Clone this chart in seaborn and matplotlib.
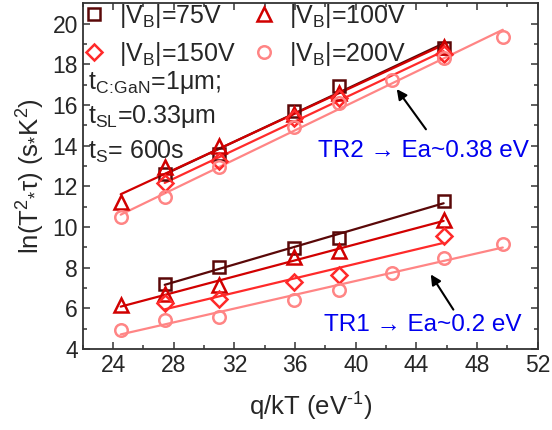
import numpy as np
import pandas as pd
import matplotlib
matplotlib.use("Agg")
import matplotlib.pyplot as plt
import seaborn as sns

# ---- data ----
labels = ["|V$_{B}$|=75V", "|V$_{B}$|=100V", "|V$_{B}$|=150V", "|V$_{B}$|=200V"]
colors = ["#5a0808", "#d10000", "#ff2a2a", "#ff8585"]
markers = ["s", "^", "D", "o"]

# TR2 (upper group)
x_tr2_75 = [27.4, 31.0, 35.9, 38.9, 45.8]
y_tr2_75 = [12.6, 13.6, 15.72, 16.94, 18.82]
x_tr2_100 = [24.5, 27.4, 31.0, 35.9, 38.9, 45.8]
y_tr2_100 = [11.22, 12.94, 14.0, 15.58, 16.61, 18.85]
x_tr2_150 = [27.4, 31.0, 35.9, 38.9, 45.8]
y_tr2_150 = [12.15, 13.26, 15.39, 16.37, 18.5]
x_tr2_200 = [24.5, 27.4, 31.0, 35.9, 38.9, 42.4, 45.8, 49.7]
y_tr2_200 = [10.49, 11.5, 12.94, 14.9, 16.12, 17.22, 18.33, 19.34]

# TR1 (lower group)
x_tr1_75 = [27.4, 31.0, 35.9, 38.9, 45.8]
y_tr1_75 = [7.19, 8.03, 8.98, 9.47, 11.3]
x_tr1_100 = [24.5, 27.4, 31.0, 35.9, 38.9, 45.8]
y_tr1_100 = [6.16, 6.73, 7.14, 8.52, 8.82, 10.36]
x_tr1_150 = [27.4, 31.0, 35.9, 38.9, 45.8]
y_tr1_150 = [6.27, 6.48, 7.3, 7.66, 9.54]
x_tr1_200 = [24.5, 27.4, 31.0, 35.9, 38.9, 42.4, 45.8, 49.7]
y_tr1_200 = [4.93, 5.45, 5.59, 6.4, 6.89, 7.76, 8.49, 9.18]

tr2 = [(x_tr2_75, y_tr2_75), (x_tr2_100, y_tr2_100), (x_tr2_150, y_tr2_150), (x_tr2_200, y_tr2_200)]
tr1 = [(x_tr1_75, y_tr1_75), (x_tr1_100, y_tr1_100), (x_tr1_150, y_tr1_150), (x_tr1_200, y_tr1_200)]

sns.set_style("ticks")
plt.rcParams["font.family"] = ["Liberation Sans", "DejaVu Sans"]
plt.rcParams["mathtext.default"] = "regular"
plt.rcParams["xtick.direction"] = "in"
plt.rcParams["ytick.direction"] = "in"

fig = plt.figure(figsize=(5.52, 4.30), dpi=100)
ax = fig.add_axes([0.15, 0.188, 0.824, 0.804])

for i in range(4):
    for grp in (tr2, tr1):
        xs, ys = grp[i]
        df = pd.DataFrame({"x": xs, "y": ys})
        sns.regplot(data=df, x="x", y="y", ax=ax, scatter=False, ci=None,
                    truncate=True, color=colors[i], line_kws={"lw": 1.6})
msize = {"s": 9, "^": 10, "D": 8, "o": 9}
handles = []
for i in range(4):
    for k, grp in enumerate((tr2, tr1)):
        xs, ys = grp[i]
        df = pd.DataFrame({"x": xs, "y": ys})
        h, = ax.plot(df["x"], df["y"], linestyle="none", marker=markers[i],
                     markersize=msize[markers[i]],
                     markerfacecolor="none", markeredgecolor=colors[i],
                     markeredgewidth=1.8, label=labels[i], zorder=3)
        if k == 0:
            handles.append(h)

ax.set_xlim(22, 52)
ax.set_ylim(4, 21)
ax.set_xticks(np.arange(24, 53, 4))
ax.set_xticks(np.arange(22, 53, 2), minor=True)
ax.set_yticks(np.arange(4, 21, 2))
ax.set_yticks(np.arange(4, 21, 1), minor=True)
ax.tick_params(which="both", top=True, right=True, labelsize=16.5, width=1.1, color="#333333")
ax.tick_params(which="major", length=5)
ax.tick_params(which="minor", length=3)
for s in ax.spines.values():
    s.set_linewidth(1.3)
    s.set_color("#333333")

ax.set_xlabel("q/kT (eV$^{\u2010" + "1}$)", fontsize=18.5, labelpad=10)
ax.set_ylabel("ln(T$^{2}$$_{*}$τ) (s$_{*}$K$^{2}$)", fontsize=18.5, labelpad=4)

order = [0, 2, 1, 3]
leg = ax.legend([handles[j] for j in order], [labels[j] for j in order],
                loc="upper left", ncol=2, frameon=False, fontsize=18,
                handletextpad=0.5, columnspacing=0.64, borderaxespad=-0.12,
                borderpad=0.05, labelspacing=0.4, handlelength=1.0)

ax.text(0.012, 0.752, "t$_{C\\!:\\!GaN}$=1μm;", transform=ax.transAxes, fontsize=18, va="baseline")
ax.text(0.012, 0.654, "t$_{SL}$=0.33μm", transform=ax.transAxes, fontsize=18, va="baseline")
ax.text(0.012, 0.550, "t$_{S}$= 600s", transform=ax.transAxes, fontsize=18, va="baseline")

ax.annotate("", xy=(42.6, 16.9), xytext=(44.74, 14.7),
            arrowprops=dict(arrowstyle="-|>", color="black", lw=1.5, mutation_scale=15))
ax.annotate("", xy=(44.85, 7.79), xytext=(46.54, 5.83),
            arrowprops=dict(arrowstyle="-|>", color="black", lw=1.5, mutation_scale=15))
ax.text(37.5, 13.75, "TR2 → Ea~0.38 eV", color="#0000ee", fontsize=17.5, va="center")
ax.text(37.9, 5.18, "TR1 → Ea~0.2 eV", color="#0000ee", fontsize=17.5, va="center")

fig.savefig("out.png", dpi=100)
